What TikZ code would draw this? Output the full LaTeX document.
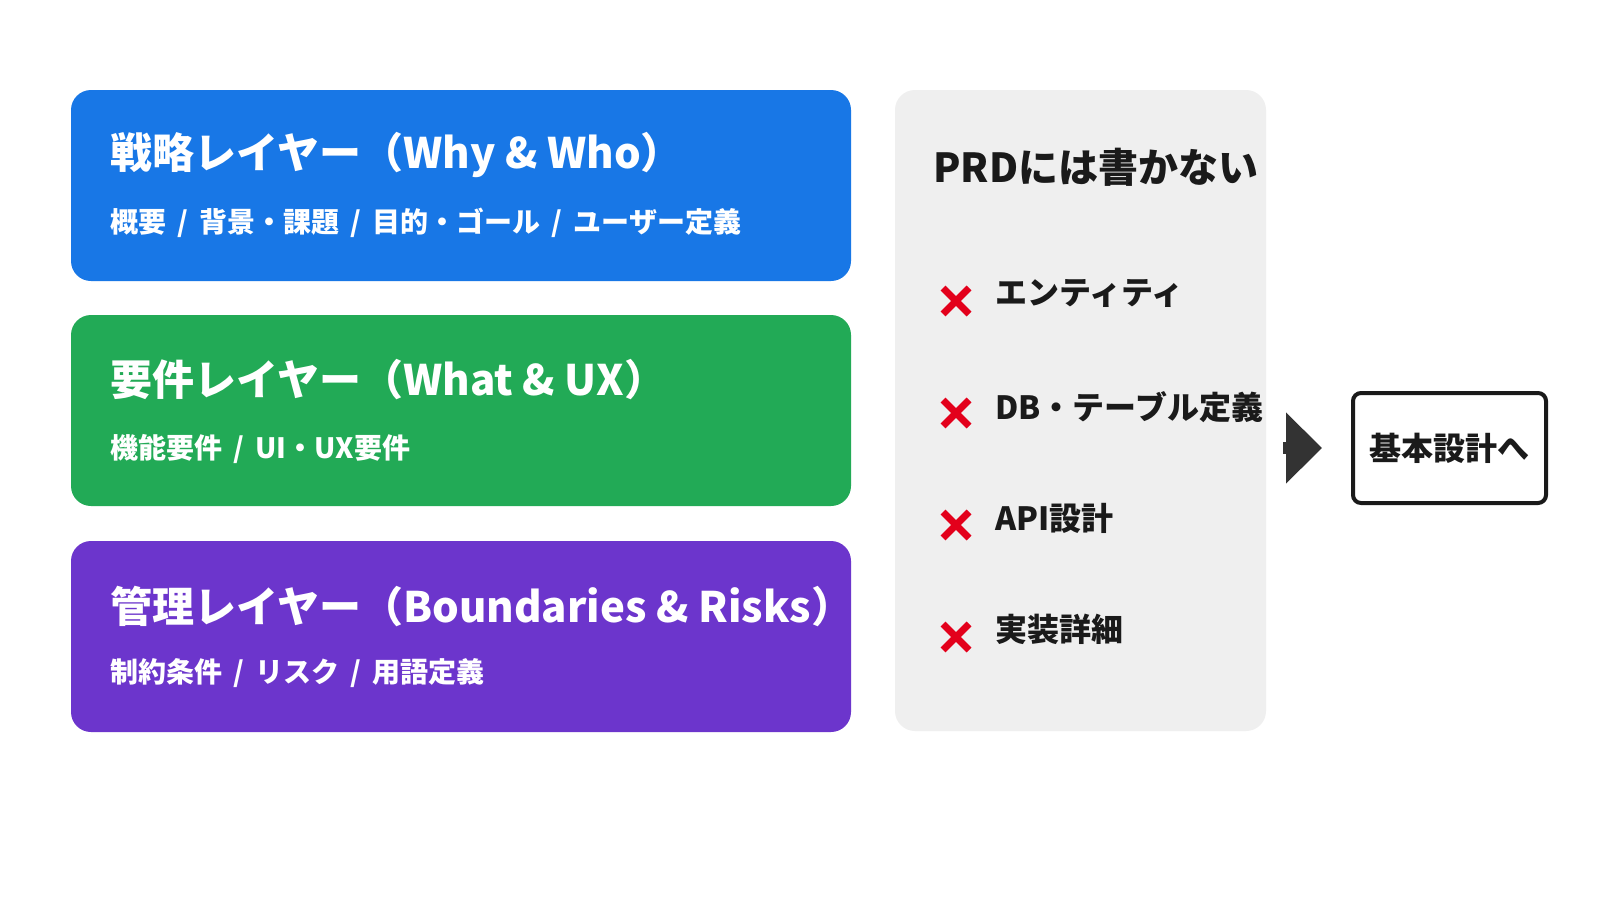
\documentclass[tikz,border=0pt]{standalone}
\usepackage{fontspec}
\setmainfont{Noto Sans CJK JP}
\usetikzlibrary{positioning,arrows.meta}

\definecolor{stratblue}{HTML}{1877E6}
\definecolor{reqgreen}{HTML}{22AA56}
\definecolor{mgmtpurple}{HTML}{6C35CC}
\definecolor{panelgray}{HTML}{EFEFEF}
\definecolor{crossred}{HTML}{E3001B}
\definecolor{inkdark}{HTML}{1A1A1A}
\definecolor{arrowdark}{HTML}{333333}

\newcommand{\slashsep}{\hspace{0.4em}/\hspace{0.4em}}

\begin{document}
\begin{tikzpicture}[
    x=0.5pt, y=-0.5pt,
    layer/.style={rounded corners=10pt, minimum width=390pt, minimum height=95.5pt, inner sep=0pt, outer sep=0pt, anchor=north west},
    layertitle/.style={anchor=west, inner sep=0pt, text=white, font=\bfseries\fontsize{21pt}{25pt}\selectfont},
    layersub/.style={anchor=west, inner sep=0pt, text=white, font=\bfseries\fontsize{14pt}{17pt}\selectfont},
    panelbox/.style={fill=panelgray, rounded corners=10pt, minimum width=185.5pt, minimum height=320.5pt, inner sep=0pt, outer sep=0pt, anchor=north west},
    itemtext/.style={anchor=west, inner sep=0pt, text=inkdark, font=\bfseries\fontsize{16pt}{19pt}\selectfont},
    crossmark/.style={crossred, line width=3.5pt},
    nextbox/.style={draw=inkdark, line width=2pt, rounded corners=4pt, minimum width=96.5pt, minimum height=55pt, inner sep=0pt, text=inkdark, font=\bfseries\fontsize{16pt}{19pt}\selectfont},
    flowarrow/.style={arrowdark, line width=6pt, -{Triangle[length=18pt, width=34.5pt]}},
]

% Canvas
\fill[white] (0,0) rectangle (1600,900);
\useasboundingbox (0,0) rectangle (1600,900);

% === Layers ===
\node[layer, fill=stratblue] (strategy) at (71,90) {};
\node[layertitle] (strategytitle) at (110,155) {戦略レイヤー（Why \& Who）};
\node[layersub] (strategysub) at (110,223) {概要\slashsep 背景・課題\slashsep 目的・ゴール\slashsep ユーザー定義};

\node[layer, fill=reqgreen] (require) at (71,315) {};
\node[layertitle] (requiretitle) at (110,380) {要件レイヤー（What \& UX）};
\node[layersub] (requiresub) at (110,449) {機能要件\slashsep UI・UX要件};

\node[layer, fill=mgmtpurple] (manage) at (71,541) {};
\node[layertitle] (managetitle) at (110,606) {管理レイヤー（Boundaries \& Risks）};
\node[layersub] (managesub) at (110,673) {制約条件\slashsep リスク\slashsep 用語定義};

% === Out of scope panel ===
\node[panelbox] (panel) at (895,90) {};
\node[anchor=west, inner sep=0pt, text=inkdark, font=\bfseries\fontsize{20pt}{24pt}\selectfont] (paneltitle) at (933,167) {PRDには書かない};

% Crosses
\draw[crossmark] (943,288) -- (969,314);
\draw[crossmark] (969,288) -- (943,314);
\draw[crossmark] (943,400) -- (969,426);
\draw[crossmark] (969,400) -- (943,426);
\draw[crossmark] (943,512) -- (969,538);
\draw[crossmark] (969,512) -- (943,538);
\draw[crossmark] (943,624) -- (969,650);
\draw[crossmark] (969,624) -- (943,650);

% Items
\node[itemtext] (entity) at (995,293) {エンティティ};
\node[itemtext] (dbtable) at (995,407) {DB・テーブル定義};
\node[itemtext] (apidesign) at (995,518) {API設計};
\node[itemtext] (impl) at (995,629) {実装詳細};

% === Next step ===
\node[nextbox] (next) at (1449.5,448) {基本設計へ};
\draw[flowarrow, shorten <=8.5pt, shorten >=14.5pt] (panel.east |- next) -- (next.west);

\end{tikzpicture}
\end{document}
